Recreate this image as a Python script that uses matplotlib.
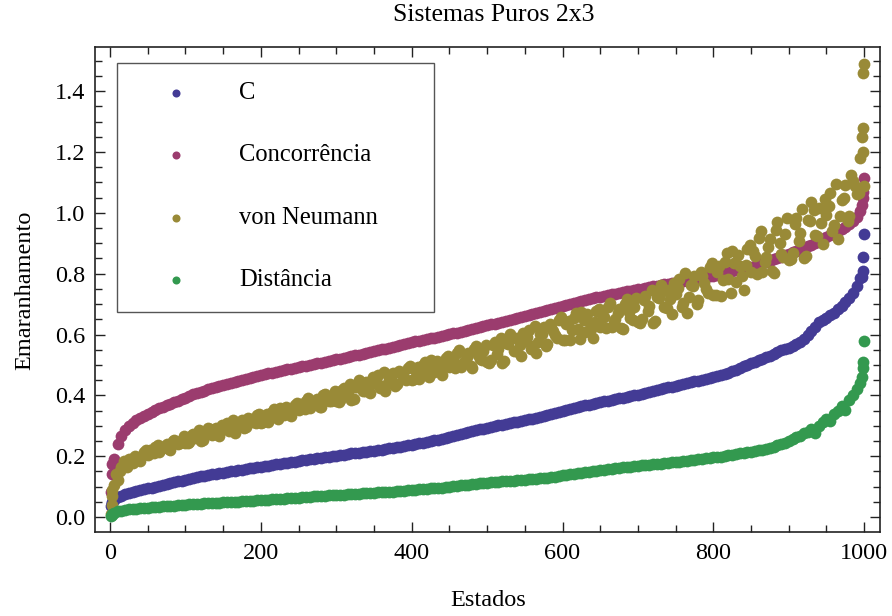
import numpy as np
import matplotlib
matplotlib.use("Agg")
import matplotlib.pyplot as plt
from matplotlib.ticker import MultipleLocator, FormatStrFormatter
from matplotlib.patches import Rectangle

plt.rcParams['font.family'] = ['Liberation Serif', 'DejaVu Serif']

# estados das curvas suaves (C, Concorrencia, Distancia)
estados = [1, 2, 3] + list(range(5, 1000, 5)) + [997, 998, 999, 1000]

c_vals = [0.035, 0.045, 0.050,
          0.057, 0.065, 0.070, 0.075, 0.079, 0.082, 0.085, 0.088, 0.091, 0.094,
          0.097, 0.100, 0.103, 0.106, 0.108, 0.111, 0.114, 0.117, 0.120, 0.123,
          0.126, 0.129, 0.132, 0.134, 0.136, 0.138, 0.140, 0.142, 0.144, 0.146,
          0.148, 0.150, 0.152, 0.154, 0.156, 0.158, 0.160, 0.162, 0.164, 0.166,
          0.168, 0.169, 0.171, 0.173, 0.175, 0.177, 0.179, 0.180, 0.182, 0.184,
          0.186, 0.188, 0.190, 0.191, 0.193, 0.195, 0.197, 0.199, 0.201, 0.202,
          0.204, 0.205, 0.207, 0.209, 0.211, 0.212, 0.214, 0.215, 0.217, 0.218,
          0.220, 0.222, 0.224, 0.226, 0.228, 0.230, 0.232, 0.234, 0.236, 0.238,
          0.240, 0.242, 0.245, 0.247, 0.250, 0.252, 0.255, 0.258, 0.261, 0.264,
          0.267, 0.270, 0.273, 0.276, 0.279, 0.282, 0.285, 0.288, 0.291, 0.294,
          0.297, 0.299, 0.302, 0.304, 0.307, 0.309, 0.312, 0.314, 0.317, 0.319,
          0.322, 0.324, 0.327, 0.330, 0.333, 0.336, 0.339, 0.342, 0.346, 0.350,
          0.353, 0.356, 0.359, 0.362, 0.365, 0.367, 0.370, 0.372, 0.375, 0.377,
          0.380, 0.382, 0.385, 0.387, 0.390, 0.392, 0.395, 0.397, 0.400, 0.402,
          0.405, 0.408, 0.411, 0.414, 0.417, 0.420, 0.423, 0.426, 0.429, 0.432,
          0.435, 0.437, 0.440, 0.443, 0.446, 0.448, 0.451, 0.454, 0.457, 0.460,
          0.463, 0.467, 0.471, 0.475, 0.480, 0.485, 0.490, 0.495, 0.500, 0.505,
          0.510, 0.515, 0.520, 0.525, 0.530, 0.536, 0.542, 0.549, 0.552, 0.555,
          0.561, 0.568, 0.576, 0.585, 0.597, 0.610, 0.625, 0.640, 0.648, 0.655,
          0.663, 0.672, 0.683, 0.695, 0.707, 0.720, 0.738, 0.760, 0.785,
          0.790, 0.810, 0.855, 0.930]

conc_vals = [0.083, 0.140, 0.175,
             0.190, 0.240, 0.265, 0.285, 0.298, 0.310, 0.318, 0.326, 0.333, 0.340,
             0.346, 0.352, 0.358, 0.363, 0.368, 0.373, 0.378, 0.383, 0.388, 0.393,
             0.398, 0.403, 0.408, 0.412, 0.416, 0.420, 0.424, 0.427, 0.431, 0.434,
             0.438, 0.441, 0.445, 0.448, 0.451, 0.454, 0.457, 0.460, 0.463, 0.466,
             0.469, 0.472, 0.475, 0.477, 0.480, 0.483, 0.486, 0.488, 0.491, 0.493,
             0.496, 0.498, 0.501, 0.503, 0.506, 0.508, 0.511, 0.513, 0.516, 0.518,
             0.521, 0.523, 0.526, 0.529, 0.532, 0.534, 0.537, 0.540, 0.543, 0.545,
             0.548, 0.551, 0.554, 0.557, 0.560, 0.563, 0.566, 0.569, 0.572, 0.575,
             0.578, 0.580, 0.583, 0.585, 0.588, 0.590, 0.593, 0.596, 0.599, 0.601,
             0.604, 0.606, 0.609, 0.612, 0.615, 0.618, 0.621, 0.624, 0.627, 0.630,
             0.633, 0.636, 0.639, 0.642, 0.645, 0.648, 0.651, 0.654, 0.657, 0.660,
             0.664, 0.667, 0.671, 0.674, 0.678, 0.681, 0.685, 0.688, 0.692, 0.695,
             0.698, 0.701, 0.704, 0.707, 0.710, 0.713, 0.716, 0.719, 0.722, 0.724,
             0.727, 0.729, 0.732, 0.734, 0.737, 0.739, 0.742, 0.744, 0.747, 0.749,
             0.751, 0.753, 0.756, 0.758, 0.760, 0.762, 0.765, 0.767, 0.769, 0.771,
             0.773, 0.775, 0.777, 0.779, 0.782, 0.784, 0.787, 0.789, 0.792, 0.794,
             0.797, 0.800, 0.803, 0.806, 0.809, 0.812, 0.814, 0.817, 0.820, 0.823,
             0.826, 0.830, 0.834, 0.838, 0.842, 0.847, 0.851, 0.856, 0.860, 0.865,
             0.870, 0.874, 0.879, 0.884, 0.890, 0.895, 0.901, 0.907, 0.913, 0.920,
             0.927, 0.934, 0.941, 0.948, 0.955, 0.963, 0.973, 0.985, 1.005,
             1.025, 1.050, 1.070, 1.115]

dist_vals = [0.002, 0.008, 0.011,
             0.014, 0.019, 0.021, 0.023, 0.025, 0.026, 0.028, 0.029, 0.030, 0.031,
             0.032, 0.033, 0.034, 0.035, 0.036, 0.037, 0.038, 0.039, 0.040, 0.041,
             0.042, 0.043, 0.043, 0.044, 0.045, 0.045, 0.046, 0.047, 0.047, 0.048,
             0.049, 0.049, 0.050, 0.051, 0.052, 0.052, 0.053, 0.054, 0.055, 0.056,
             0.056, 0.057, 0.058, 0.059, 0.060, 0.061, 0.062, 0.063, 0.063, 0.064,
             0.065, 0.066, 0.067, 0.068, 0.068, 0.069, 0.070, 0.071, 0.071, 0.072,
             0.073, 0.074, 0.075, 0.076, 0.076, 0.077, 0.078, 0.079, 0.079, 0.080,
             0.081, 0.082, 0.082, 0.083, 0.084, 0.085, 0.086, 0.087, 0.088, 0.089,
             0.090, 0.091, 0.092, 0.093, 0.094, 0.095, 0.096, 0.097, 0.098, 0.100,
             0.101, 0.103, 0.104, 0.106, 0.107, 0.108, 0.110, 0.111, 0.112, 0.113,
             0.114, 0.115, 0.116, 0.117, 0.118, 0.119, 0.120, 0.121, 0.122, 0.123,
             0.124, 0.125, 0.126, 0.127, 0.128, 0.130, 0.131, 0.133, 0.135, 0.138,
             0.139, 0.141, 0.143, 0.145, 0.146, 0.148, 0.149, 0.151, 0.152, 0.154,
             0.155, 0.157, 0.158, 0.160, 0.161, 0.163, 0.164, 0.166, 0.167, 0.169,
             0.170, 0.171, 0.172, 0.173, 0.175, 0.176, 0.177, 0.178, 0.180, 0.181,
             0.182, 0.184, 0.185, 0.187, 0.188, 0.190, 0.191, 0.193, 0.194, 0.196,
             0.197, 0.199, 0.201, 0.203, 0.205, 0.207, 0.209, 0.211, 0.213, 0.215,
             0.217, 0.219, 0.222, 0.225, 0.228, 0.232, 0.236, 0.240, 0.245, 0.250,
             0.256, 0.262, 0.268, 0.275, 0.281, 0.288, 0.278, 0.300, 0.312, 0.322,
             0.315, 0.340, 0.348, 0.365, 0.352, 0.385, 0.400, 0.420, 0.440,
             0.460, 0.490, 0.510, 0.580]

# von Neumann: pontos espalhados (duas passagens de leitura)
estados_vn = [1, 2, 3] + list(range(5, 1001, 5)) + [997, 998, 999, 1000]

vn_vals = [0.010, 0.040, 0.070,
           0.105, 0.123, 0.164, 0.167, 0.192, 0.178, 0.194, 0.183, 0.215, 0.204,
           0.217, 0.231, 0.214, 0.226, 0.240, 0.222, 0.255, 0.240, 0.255, 0.243,
           0.246, 0.274, 0.265, 0.249, 0.278, 0.293, 0.271, 0.292, 0.268, 0.291,
           0.308, 0.286, 0.278, 0.307, 0.318, 0.296, 0.321, 0.311, 0.334, 0.308,
           0.332, 0.314, 0.345, 0.333, 0.359, 0.335, 0.351, 0.332, 0.370, 0.352,
           0.368, 0.383, 0.359, 0.372, 0.388, 0.363, 0.405, 0.382, 0.400, 0.381,
           0.384, 0.424, 0.410, 0.384, 0.427, 0.449, 0.414, 0.445, 0.407, 0.441,
           0.466, 0.430, 0.416, 0.458, 0.474, 0.438, 0.475, 0.457, 0.491, 0.449,
           0.483, 0.453, 0.499, 0.478, 0.515, 0.476, 0.498, 0.468, 0.523, 0.493,
           0.515, 0.539, 0.493, 0.513, 0.538, 0.491, 0.561, 0.519, 0.546, 0.511,
           0.516, 0.574, 0.551, 0.508, 0.571, 0.601, 0.546, 0.590, 0.531, 0.579,
           0.616, 0.561, 0.539, 0.602, 0.625, 0.570, 0.625, 0.597, 0.647, 0.583,
           0.633, 0.581, 0.654, 0.617, 0.675, 0.608, 0.641, 0.589, 0.677, 0.625,
           0.658, 0.691, 0.624, 0.652, 0.685, 0.618, 0.716, 0.654, 0.692, 0.640,
           0.650, 0.726, 0.695, 0.639, 0.722, 0.762, 0.689, 0.747, 0.668, 0.732,
           0.784, 0.705, 0.672, 0.762, 0.793, 0.714, 0.791, 0.751, 0.822, 0.730,
           0.804, 0.727, 0.838, 0.784, 0.873, 0.773, 0.825, 0.748, 0.882, 0.805,
           0.859, 0.917, 0.805, 0.855, 0.913, 0.801, 0.969, 0.866, 0.932, 0.846,
           0.867, 0.982, 0.935, 0.852, 0.976, 1.037, 0.927, 1.015, 0.896, 0.993,
           1.066, 0.959, 0.915, 1.042, 1.093, 0.991, 1.105, 1.062, 1.180, 1.087,
           1.250, 1.280, 1.460, 1.490]

estados_vn2 = list(range(3, 1000, 5))

vn_vals2 = [0.090, 0.143, 0.152, 0.184, 0.165, 0.190, 0.201, 0.192, 0.204, 0.222,
            0.220, 0.210, 0.238, 0.223, 0.235, 0.224, 0.251, 0.247, 0.242, 0.267,
            0.242, 0.270, 0.259, 0.285, 0.252, 0.279, 0.289, 0.272, 0.284, 0.303,
            0.298, 0.282, 0.318, 0.295, 0.308, 0.292, 0.325, 0.317, 0.308, 0.340,
            0.312, 0.340, 0.329, 0.355, 0.323, 0.351, 0.361, 0.344, 0.356, 0.376,
            0.373, 0.354, 0.393, 0.367, 0.382, 0.363, 0.400, 0.390, 0.381, 0.415,
            0.378, 0.418, 0.401, 0.438, 0.388, 0.428, 0.441, 0.415, 0.431, 0.459,
            0.451, 0.424, 0.476, 0.440, 0.459, 0.432, 0.481, 0.466, 0.452, 0.497,
            0.453, 0.492, 0.475, 0.511, 0.461, 0.500, 0.513, 0.486, 0.502, 0.529,
            0.522, 0.490, 0.549, 0.506, 0.527, 0.495, 0.551, 0.533, 0.515, 0.567,
            0.508, 0.565, 0.537, 0.590, 0.513, 0.570, 0.587, 0.545, 0.567, 0.606,
            0.593, 0.552, 0.629, 0.575, 0.602, 0.561, 0.634, 0.611, 0.589, 0.656,
            0.583, 0.646, 0.614, 0.672, 0.585, 0.648, 0.666, 0.619, 0.642, 0.685,
            0.668, 0.621, 0.704, 0.642, 0.670, 0.623, 0.701, 0.674, 0.647, 0.720,
            0.638, 0.714, 0.677, 0.747, 0.644, 0.720, 0.743, 0.687, 0.716, 0.768,
            0.752, 0.692, 0.802, 0.723, 0.761, 0.701, 0.805, 0.771, 0.738, 0.834,
            0.729, 0.825, 0.778, 0.867, 0.737, 0.834, 0.862, 0.793, 0.829, 0.895,
            0.876, 0.798, 0.941, 0.837, 0.887, 0.809, 0.944, 0.900, 0.856, 0.982,
            0.849, 0.964, 0.908, 1.014, 0.859, 0.974, 1.008, 0.925, 0.968, 1.047,
            1.021, 0.941, 1.095, 0.988, 1.048, 0.973, 1.123, 1.089, 1.065, 1.200]

nomes = ['C', 'Concorrência', 'von Neumann', 'Distância']
cores = ['#433b95', '#9b3c6e', '#998a37', '#33994f']

fig = plt.figure(figsize=(8.92, 6.16), dpi=100)
ax = fig.add_axes([95 / 892, 1 - 532 / 616, 785 / 892, 485 / 616])

series = [(estados, c_vals), (estados, conc_vals),
          (estados_vn + estados_vn2, vn_vals + vn_vals2), (estados, dist_vals)]
for (xs, ys), cor in zip(series, cores):
    ax.scatter(xs, ys, s=72, color=cor, linewidths=0, zorder=3)

ax.set_xlim(-20, 1021)
ax.set_ylim(-0.049, 1.545)
ax.xaxis.set_major_locator(MultipleLocator(200))
ax.xaxis.set_minor_locator(MultipleLocator(50))
ax.yaxis.set_major_locator(MultipleLocator(0.2))
ax.yaxis.set_minor_locator(MultipleLocator(0.05))
ax.yaxis.set_major_formatter(FormatStrFormatter('%.1f'))
ax.tick_params(which='both', direction='in', top=True, right=True, color='#222222', width=1)
ax.tick_params(which='major', length=7.2, labelsize=17.5)
ax.tick_params(which='minor', length=4.8)
ax.tick_params(axis='x', pad=8)
ax.tick_params(axis='y', pad=7)
for sp in ax.spines.values():
    sp.set_color('#222222')
    sp.set_linewidth(1.2)

fig.text(494 / 892, 1 - 15 / 616, 'Sistemas Puros 2x3', ha='center', va='center', fontsize=18.5)
fig.text(488 / 892, 1 - 600 / 616, 'Estados', ha='center', va='center', fontsize=17.5)
fig.text(25 / 892, 1 - 290 / 616, 'Emaranhamento', ha='center', va='center', rotation=90, fontsize=17.5)

# legenda
def ax_x(px):
    return (px - 95) / 785

def ax_y(py):
    return (532 - py) / 485

ax.add_patch(Rectangle((ax_x(117), ax_y(312)), ax_x(434) - ax_x(117), ax_y(63) - ax_y(312),
                       transform=ax.transAxes, facecolor='white', edgecolor='#555555',
                       linewidth=1, zorder=4))
for i, (nome, cor) in enumerate(zip(nomes, cores)):
    yy = ax_y(93 + 62.3 * i)
    ax.plot([ax_x(176)], [yy], 'o', ms=5.8, color=cor, mec='none', transform=ax.transAxes, zorder=5)
    ax.text(ax_x(239), yy, nome, transform=ax.transAxes, ha='left', va='center', fontsize=17.7, zorder=5)

fig.savefig('out.png', dpi=100)
